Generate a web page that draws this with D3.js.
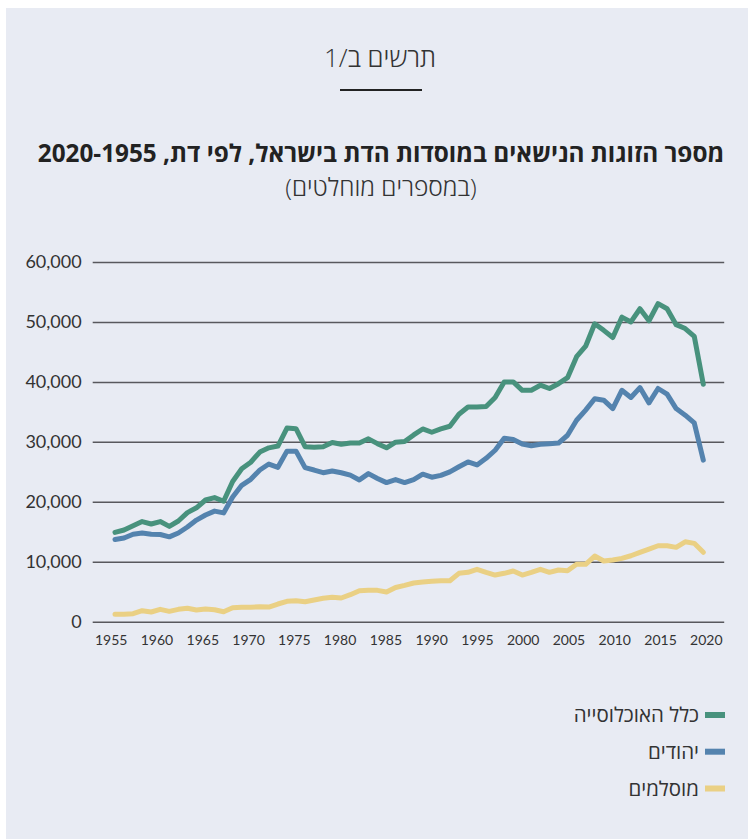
<!DOCTYPE html>
<html>
<head>
<meta charset="utf-8">
<script src="https://cdn.jsdelivr.net/npm/d3@7"></script>
<style>
  body { margin: 0; background: #fff; }
  svg { display: block; }
</style>
</head>
<body>
<svg id="chart" width="748" height="839"></svg>
<script>
  // years 1955..2020
  const years = d3.range(1955, 2021);

  // total population
  const total = [
    14900, 15300, 16000, 16700, 16300, 16700, 15900, 16800, 18200, 19000,
    20300, 20700, 20100, 23400, 25500, 26600, 28300, 29000, 29300, 32300,
    32200, 29200, 29100, 29200, 29900, 29600, 29800, 29800, 30500, 29700,
    29000, 29950, 30050, 31150, 32150, 31600, 32150, 32600, 34600, 35800,
    35800, 35900, 37400, 40000, 40000, 38600, 38600, 39450, 38900, 39700,
    40700, 44200, 45950, 49700, 48600, 47400, 50800, 50000, 52200, 50200,
    53050, 52200, 49550, 48900, 47600, 39600
  ];

  // jews
  const jews = [
    13700, 13950, 14600, 14800, 14600, 14550, 14150, 14800, 15800, 16950,
    17800, 18450, 18150, 20800, 22750, 23750, 25300, 26300, 25750, 28450,
    28450, 25700, 25300, 24850, 25150, 24850, 24450, 23650, 24700, 23900,
    23200, 23700, 23200, 23700, 24600, 24100, 24400, 25000, 25850, 26650,
    26150, 27250, 28600, 30600, 30400, 29650, 29350, 29600, 29700, 29800,
    31100, 33600, 35300, 37200, 36950, 35550, 38600, 37400, 39050, 36500,
    38900, 37950, 35550, 34450, 33150, 26950
  ];

  // muslims
  const muslims = [
    1230, 1230, 1330, 1830, 1620, 2060, 1730, 2060, 2230, 1950,
    2120, 2000, 1670, 2330, 2400, 2400, 2500, 2450, 2950, 3400,
    3500, 3330, 3620, 3900, 4070, 3950, 4500, 5170, 5230, 5230,
    4950, 5700, 6050, 6450, 6620, 6730, 6840, 6840, 8070, 8230,
    8730, 8230, 7780, 8070, 8450, 7780, 8230, 8730, 8230, 8620,
    8500, 9570, 9570, 10950, 10120, 10280, 10570, 11000, 11570, 12120,
    12670, 12670, 12400, 13330, 13070, 11570
  ];

  const seriesNames = ["כלל האוכלוסייה", "יהודים", "מוסלמים"];
  const colors = ["#48927d", "#5483ae", "#ead084"];

  const yTicks = [0, 10000, 20000, 30000, 40000, 50000, 60000];
  const xTicks = [1955, 1960, 1965, 1970, 1975, 1980, 1985, 1990, 1995, 2000, 2005, 2010, 2015, 2020];

  const hebFont = "'Open Sans', 'Liberation Sans', 'DejaVu Sans', sans-serif";
  const numFont = "Lato, 'Open Sans', sans-serif";

  const svg = d3.select("#chart");

  // panel background
  svg.append("rect")
    .attr("x", 6).attr("y", 8)
    .attr("width", 742).attr("height", 831)
    .attr("fill", "#e8ebf3");

  // header
  svg.append("text")
    .attr("x", 380).attr("y", 67)
    .attr("text-anchor", "middle")
    .attr("direction", "rtl")
    .attr("font-family", hebFont)
    .attr("font-weight", 300)
    .attr("font-size", 26)
    .attr("fill", "#333")
    .text("תרשים ב/1");

  svg.append("line")
    .attr("x1", 340).attr("x2", 422)
    .attr("y1", 90).attr("y2", 90)
    .attr("stroke", "#222")
    .attr("stroke-width", 2);

  svg.append("text")
    .attr("x", 381).attr("y", 162)
    .attr("text-anchor", "middle")
    .attr("direction", "rtl")
    .attr("font-family", hebFont)
    .attr("font-weight", 700)
    .attr("font-size", 24.3)
    .attr("fill", "#222")
    .text("מספר הזוגות הנישאים במוסדות הדת בישראל, לפי דת, 2020-1955");

  svg.append("text")
    .attr("x", 381).attr("y", 196)
    .attr("text-anchor", "middle")
    .attr("direction", "rtl")
    .attr("font-family", hebFont)
    .attr("font-weight", 300)
    .attr("font-size", 24.5)
    .attr("fill", "#333")
    .text("(במספרים מוחלטים)");

  // scales
  const x = d3.scaleLinear().domain([1955, 2020]).range([115, 703.3]);
  const xLabel = d3.scaleLinear().domain([1955, 2020]).range([110.7, 705.8]);
  const y = d3.scaleLinear().domain([0, 60000]).range([621.7, 262]);

  // y axis with gridlines
  const gy = svg.append("g")
    .attr("transform", "translate(92.7,0)")
    .call(d3.axisLeft(y)
      .tickValues(yTicks)
      .tickFormat(d3.format(","))
      .tickSizeInner(-631.5)
      .tickSizeOuter(0)
      .tickPadding(11));
  gy.select(".domain").remove();
  gy.selectAll(".tick line")
    .attr("stroke", "#58585d")
    .attr("stroke-width", 1.5);
  gy.selectAll(".tick text")
    .attr("font-family", numFont)
    .attr("font-size", 18)
    .attr("fill", "#333");

  // x axis labels
  const gx = svg.append("g")
    .attr("transform", "translate(0,621.7)")
    .call(d3.axisBottom(xLabel)
      .tickValues(xTicks)
      .tickFormat(d3.format("d"))
      .tickSize(0)
      .tickPadding(13));
  gx.select(".domain").remove();
  gx.selectAll(".tick text")
    .attr("font-family", numFont)
    .attr("font-size", 14)
    .attr("fill", "#333");

  // lines
  const line = d3.line()
    .x((d, i) => x(years[i]))
    .y(d => y(d));

  [total, jews, muslims].forEach((vals, k) => {
    svg.append("path")
      .datum(vals)
      .attr("fill", "none")
      .attr("stroke", colors[k])
      .attr("stroke-width", 5)
      .attr("stroke-linejoin", "round")
      .attr("stroke-linecap", "round")
      .attr("d", line);
  });

  // legend
  const legendY = [715, 751.7, 788.5];
  seriesNames.forEach((name, k) => {
    svg.append("rect")
      .attr("x", 705).attr("y", legendY[k] - 3)
      .attr("width", 20).attr("height", 6)
      .attr("fill", colors[k]);
    svg.append("text")
      .attr("x", 699).attr("y", legendY[k] + 7)
      .attr("text-anchor", "end")
      .attr("font-family", hebFont)
      .attr("font-size", 20.5)
      .attr("fill", "#333")
      .text(name);
  });
</script>
</body>
</html>
